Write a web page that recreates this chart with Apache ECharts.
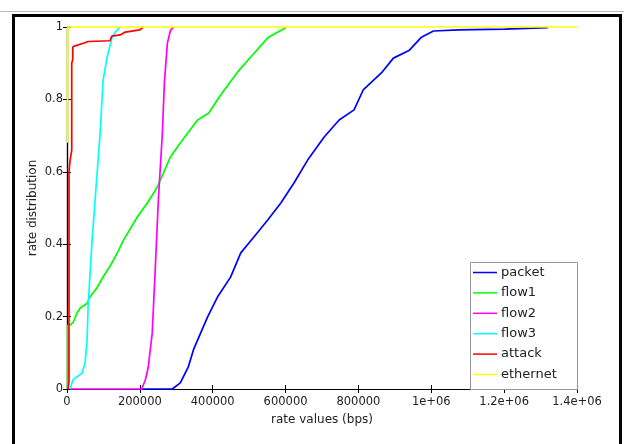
<!DOCTYPE html>
<html>
<head>
<meta charset="utf-8">
<script src="https://cdn.jsdelivr.net/npm/echarts@6/dist/echarts.min.js"></script>
<style>
html,body{margin:0;padding:0;background:#fff;}
#c{width:624px;height:444px;}
</style>
</head>
<body>
<div id="c"></div>
<script>
const seriesNames = ['packet','flow1','flow2','flow3','attack','ethernet'];
const seriesColors = ['#0000ff','#00ff00','#ff00ff','#00ffff','#ff0000','#ffff00'];
const xTickLabels = ['0','200000','400000','600000','800000','1e+06','1.2e+06','1.4e+06'];
const yTickLabels = ['0','0.2','0.4','0.6','0.8','1'];

const packetData = [
  [200000,0],[289000,0],[311000,0.017],[333000,0.061],[347000,0.108],[367000,0.155],
  [386000,0.199],[413000,0.254],[449000,0.309],[477000,0.376],[513000,0.42],[551000,0.467],
  [587000,0.514],[623000,0.569],[661000,0.633],[706000,0.696],[747000,0.743],[788000,0.771],
  [813000,0.826],[863000,0.873],[896000,0.914],[940000,0.936],[973000,0.972],[1006000,0.989],
  [1075000,0.992],[1202000,0.994],[1320000,0.998]
];
const flow1Data = [
  [1500,0],[1500,0.175],[8300,0.177],[16500,0.183],[27600,0.21],[35800,0.223],[55100,0.237],
  [63400,0.255],[82700,0.28],[99200,0.31],[118500,0.34],[137800,0.375],[154300,0.41],
  [192900,0.475],[220500,0.514],[248000,0.558],[283900,0.641],[311400,0.68],[358300,0.743],
  [388600,0.762],[421700,0.812],[468500,0.876],[504300,0.917],[551200,0.97],[578800,0.986],[600800,0.998]
];
const flow2Data = [
  [8000,0],[205000,0],[215000,0.025],[223000,0.06],[234000,0.155],[242500,0.337],
  [250800,0.522],[261800,0.707],[267300,0.845],[275600,0.956],[283900,0.99],[292100,1.0]
];
const flow3Data = [
  [8300,0],[16500,0.025],[30300,0.036],[41300,0.044],[49600,0.072],[55100,0.135],
  [57900,0.227],[63400,0.32],[68900,0.41],[79900,0.56],[90900,0.707],[99200,0.854],
  [110200,0.917],[124000,0.972],[132300,0.986],[146100,1.0]
];
const attackData = [
  [3000,0],[5500,0.02],[5500,0.6],[8300,0.63],[13000,0.66],[13000,0.9],[15700,0.91],
  [16000,0.945],[22000,0.948],[45000,0.955],[58000,0.96],[118000,0.962],[123000,0.975],
  [146000,0.978],[160000,0.986],[200000,0.992],[209000,1.0]
];
const ethernetData = [
  [1500,0.68],[1500,1],[1400000,1]
];

const allData = [packetData, flow1Data, flow2Data, flow3Data, attackData, ethernetData];
const font = 'DejaVu Sans';
const chart = echarts.init(document.getElementById('c'), null, {renderer:'canvas'});

const series = seriesNames.map((n,i)=>({
  name:n, type:'line', data:allData[i], showSymbol:false, symbol:'none',
  clip:false, z: 3,
  lineStyle:{color:seriesColors[i], width:1.7}, itemStyle:{color:seriesColors[i]}
}));

const tickInside = {show:true, inside:true, length:4, lineStyle:{color:'#000', width:1}};

chart.setOption({
  animation:false,
  backgroundColor:'#fff',
  grid:{left:67, right:47, top:27, bottom:55},
  xAxis:[
    {type:'value', min:0, max:1400000, interval:200000, position:'bottom',
     axisLine:{lineStyle:{color:'#000', width:1.2}}, axisTick:tickInside,
     splitLine:{show:false},
     axisLabel:{margin:7, color:'#222', fontFamily:font, fontSize:11.5,
       formatter:(v,idx)=>xTickLabels[Math.round(v/200000)]},
     name:'rate values (bps)', nameLocation:'middle', nameGap:25,
     nameTextStyle:{color:'#222', fontFamily:font, fontSize:12}},
    {type:'value', min:0, max:1400000, interval:200000, position:'top',
     axisLine:{show:true, lineStyle:{color:'#000', width:1.2}}, axisTick:tickInside,
     axisLabel:{show:false}, splitLine:{show:false}}
  ],
  yAxis:[
    {type:'value', min:0, max:1, interval:0.2, position:'left',
     axisLine:{show:true, lineStyle:{color:'#000', width:1.2}}, axisTick:tickInside,
     splitLine:{show:false},
     axisLabel:{margin:4, color:'#222', fontFamily:font, fontSize:11.5,
       formatter:(v)=>yTickLabels[Math.round(v/0.2)]},
     name:'rate distribution', nameLocation:'middle', nameGap:28, nameMoveOverlap:false,
     nameTextStyle:{color:'#222', fontFamily:font, fontSize:12}},
    {type:'value', min:0, max:1, interval:0.2, position:'right',
     axisLine:{show:true, lineStyle:{color:'#000', width:1.2}}, axisTick:tickInside,
     axisLabel:{show:false}, splitLine:{show:false}}
  ],
  legend:{
    orient:'vertical', left:473, top:266, z:20,
    itemWidth:24, itemHeight:14, itemGap:7.4, padding:0,
    icon:'path://M0,6.25L24,6.25L24,7.75L0,7.75Z',
    textStyle:{color:'#222', fontFamily:font, fontSize:13, padding:[0,0,0,-1]},
    data:seriesNames
  },
  graphic:[
    {type:'rect', z:10, shape:{x:470.5, y:262.5, width:107, height:127},
     style:{fill:'#fff', stroke:'#999', lineWidth:1}},
    {type:'line', z:10, shape:{x1:0, y1:11.5, x2:624, y2:11.5},
     style:{stroke:'#bbb', lineWidth:1}},
    {type:'rect', z:10, shape:{x:13.5, y:15.5, width:607, height:440},
     style:{fill:'none', stroke:'#000', lineWidth:3}}
  ],
  series:series
});
</script>
</body>
</html>
